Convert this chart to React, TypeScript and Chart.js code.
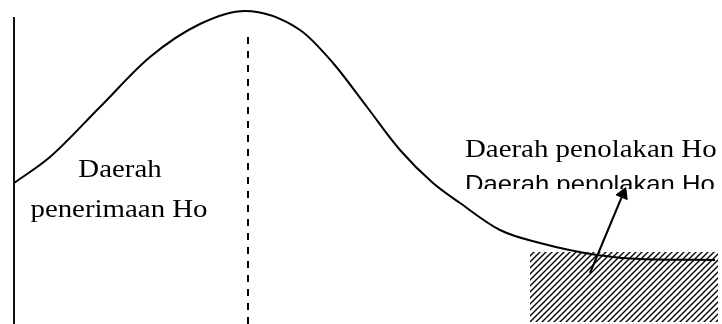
import React, { useEffect, useRef } from "react";
import { Chart, registerables } from "chart.js";

Chart.register(...registerables);

// Curve of the distribution (x position, height)
const curveX = [14, 50, 100, 150, 200, 245, 300, 333, 367, 400, 433, 460, 500, 540, 597, 640, 715];
const curveY = [141, 167, 217, 267, 300, 313, 294, 261, 217, 174, 141, 121, 94, 81, 69, 65, 64];

// Vertical axis line
const axisX = [14, 14];
const axisY = [0, 307];

// Dashed centre line
const centreX = [248, 248];
const centreY = [0, 292];

// Rejection region (hatched)
const rejectX = [530, 718];
const rejectTop = [72, 72];
const rejectBottom = 2;

// Arrow from region to label
const arrowX = [590, 623];
const arrowY = [51, 130];

// Text labels
const labelTexts = ["Daerah", "penerimaan Ho", "Daerah penolakan Ho", "Daerah penolakan Ho"];
const labelX = [120, 119, 465, 465];
const labelY = [147, 107, 167, 132];

const SERIF = '26px "Liberation Serif", "Times New Roman", serif';
const SANS = '24px "Liberation Sans", Arial, sans-serif';

function makePattern(): CanvasPattern | string {
  const c = document.createElement("canvas");
  c.width = 6;
  c.height = 6;
  const g = c.getContext("2d");
  if (!g) return "#888";
  g.strokeStyle = "#000";
  g.lineWidth = 1.4;
  g.beginPath();
  g.moveTo(-1, 7);
  g.lineTo(7, -1);
  g.moveTo(-1, 1);
  g.lineTo(1, -1);
  g.moveTo(5, 7);
  g.lineTo(7, 5);
  g.stroke();
  const p = g.createPattern(c, "repeat");
  return p || "#888";
}

const textPlugin = {
  id: "labels",
  afterDatasetsDraw(chart: any) {
    const ctx = chart.ctx;
    const xs = chart.scales.x;
    const ys = chart.scales.y;
    const specs = [
      { font: SERIF, align: "center", sx: 1.11, clip: null },
      { font: SERIF, align: "center", sx: 1.11, clip: null },
      { font: SERIF, align: "left", sx: 1.11, clip: null },
      { font: SANS, align: "left", sx: 1.07, clip: 135 },
    ];
    labelTexts.forEach((t, i) => {
      const s = specs[i];
      const px = xs.getPixelForValue(labelX[i]);
      const py = ys.getPixelForValue(labelY[i]);
      ctx.save();
      if (s.clip !== null) {
        const cy = ys.getPixelForValue(s.clip as number);
        ctx.beginPath();
        ctx.rect(0, 0, chart.width, cy);
        ctx.clip();
      }
      ctx.translate(px, py);
      ctx.scale(s.sx, 1);
      ctx.font = s.font;
      ctx.fillStyle = "#000";
      ctx.textAlign = s.align;
      ctx.textBaseline = "alphabetic";
      ctx.fillText(t, 0, 0);
      ctx.restore();
    });
  },
};

export default function App() {
  const ref = useRef<HTMLCanvasElement>(null);
  useEffect(() => {
    document.body.style.margin = "0";
    const canvas = ref.current;
    if (!canvas) return;
    const pattern = makePattern();
    const chart = new Chart(canvas, {
      type: "line",
      data: {
        datasets: [
          {
            data: rejectX.map((x, i) => ({ x, y: rejectTop[i] })),
            borderWidth: 0,
            borderColor: "rgba(0,0,0,0)",
            backgroundColor: pattern as any,
            fill: { value: rejectBottom },
            pointRadius: 0,
          },
          {
            data: curveX.map((x, i) => ({ x, y: curveY[i] })),
            borderColor: "#000",
            borderWidth: 2,
            pointRadius: 0,
            cubicInterpolationMode: "monotone",
            fill: false,
          },
          {
            data: axisX.map((x, i) => ({ x, y: axisY[i] })),
            borderColor: "#111",
            borderWidth: 2,
            pointRadius: 0,
            fill: false,
          },
          {
            data: centreX.map((x, i) => ({ x, y: centreY[i] })),
            borderColor: "#000",
            borderWidth: 2,
            borderDash: [7, 7],
            pointRadius: 0,
            fill: false,
          },
          {
            data: arrowX.map((x, i) => ({ x, y: arrowY[i] })),
            borderColor: "#000",
            borderWidth: 2,
            pointRadius: [0, 7],
            pointHoverRadius: [0, 7],
            pointStyle: "triangle",
            rotation: 23,
            pointBackgroundColor: "#000",
            pointBorderColor: "#000",
            pointBorderWidth: 1,
            fill: false,
          },
        ],
      },
      options: {
        animation: false,
        responsive: false,
        layout: { padding: 0, autoPadding: false },
        plugins: {
          legend: { display: false },
          tooltip: { enabled: false },
          title: { display: false },
        },
        events: [],
        scales: {
          x: { type: "linear", min: 0, max: 722, display: false },
          y: { type: "linear", min: 0, max: 324, display: false },
        },
      },
      plugins: [textPlugin],
    } as any);
    return () => chart.destroy();
  }, []);
  return (
    <canvas
      ref={ref}
      width={722}
      height={324}
      style={{ display: "block", width: 722, height: 324, background: "#fff" }}
    />
  );
}
